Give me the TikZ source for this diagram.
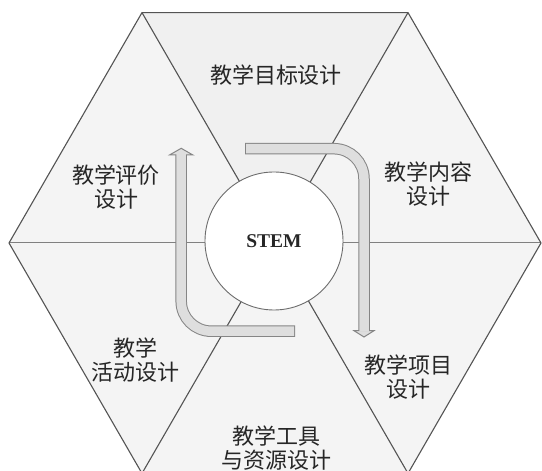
\documentclass[tikz,border=0pt]{standalone}
\usepackage{fontspec}
\setmainfont{Liberation Serif}
\newfontfamily\cjk{Noto Sans CJK SC}
\definecolor{hexfill}{gray}{0.955}
\definecolor{hexfilltop}{gray}{0.94}
\definecolor{hexedge}{gray}{0.33}
\definecolor{midline}{gray}{0.5}
\definecolor{arrfill}{gray}{0.87}
\definecolor{arredge}{gray}{0.52}
\definecolor{txt}{gray}{0.15}
\begin{document}
\begin{tikzpicture}[x=1pt,y=1pt,
  hexline/.style={draw=hexedge, line width=1.1pt, line join=miter},
  divline/.style={draw=hexedge, line width=1.1pt},
  hline/.style={draw=midline, line width=1pt},
  lbl/.style={font=\cjk\fontsize{22}{24}\selectfont, text=txt, align=center, inner sep=0pt},
  arrowout/.style={line width=11.5pt, draw=arredge, rounded corners=30pt},
  arrowin/.style={line width=9.5pt, draw=arrfill, rounded corners=30pt},
  arrowtip/.style={fill=arrfill, draw=arredge, line width=1pt, line join=miter}]
\useasboundingbox (0,0) rectangle (542,471);
\fill[white] (0,0) rectangle (542,471);
\clip (0,0) rectangle (542,471);
% hexagon vertices
\coordinate (C) at (275,228);
\coordinate (L) at (9,228);
\coordinate (R) at (541,228);
\coordinate (TL) at (142,458.4);
\coordinate (TR) at (408,458.4);
\coordinate (BL) at (142,-2.4);
\coordinate (BR) at (408,-2.4);
% segments
\fill[hexfilltop] (TL) -- (TR) -- (C) -- cycle;
\fill[hexfill] (TR) -- (R) -- (C) -- cycle;
\fill[hexfill] (R) -- (BR) -- (C) -- cycle;
\fill[hexfill] (BR) -- (BL) -- (C) -- cycle;
\fill[hexfill] (BL) -- (L) -- (C) -- cycle;
\fill[hexfill] (L) -- (TL) -- (C) -- cycle;
% dividing lines
\draw[hline] (L) -- (R);
\draw[divline] (TL) -- (BR);
\draw[divline] (TR) -- (BL);
% outline
\draw[hexline] (L) -- (TL) -- (TR) -- (R) -- (BR) -- (BL) -- cycle;
% centre circle
\node[circle, draw=gray!85!black, line width=0.9pt, fill=white, minimum size=138pt, inner sep=0pt,
      font=\fontsize{19.5}{20}\selectfont\bfseries, text=txt] (stem) at (274,230) {STEM};
% arrow 1 (top right, pointing down)
\coordinate (a1s) at (245,322.3);
\coordinate (a1si) at (246,322.3);
\coordinate (a1c) at (364,322.3);
\coordinate (a1e) at (364,140.3);
\coordinate (a1ei) at (364,139.4);
\coordinate (a1hl) at (354,140.3);
\coordinate (a1hr) at (374,140.3);
\coordinate (a1t) at (364,134);
\draw[arrowout] (a1s) -- (a1c) -- (a1e);
\draw[arrowtip] (a1hl) -- (a1hr) -- (a1t) -- cycle;
\draw[arrowin] (a1si) -- (a1c) -- (a1ei);
% arrow 2 (bottom left, pointing up)
\coordinate (a2s) at (295,139.8);
\coordinate (a2si) at (294,139.8);
\coordinate (a2c) at (181.2,139.8);
\coordinate (a2e) at (181.2,316);
\coordinate (a2ei) at (181.2,316.9);
\coordinate (a2hl) at (169.5,316);
\coordinate (a2hr) at (192.9,316);
\coordinate (a2t) at (181.2,322.7);
\draw[arrowout] (a2s) -- (a2c) -- (a2e);
\draw[arrowtip] (a2hl) -- (a2hr) -- (a2t) -- cycle;
\draw[arrowin] (a2si) -- (a2c) -- (a2ei);
% labels
\node[lbl] (goal) at (276,396) {教学目标设计};
\node[lbl] (eval) at (116,283.5) {教学评价\\设计};
\node[lbl] (content) at (428,287.3) {教学内容\\设计};
\node[lbl] (project) at (408,94) {教学项目\\设计};
\node[lbl] (activity) at (136,111) {教学\\活动设计};
\node[lbl] (tools) at (276.5,22.5) {教学工具\\与资源设计};
\end{tikzpicture}
\end{document}
